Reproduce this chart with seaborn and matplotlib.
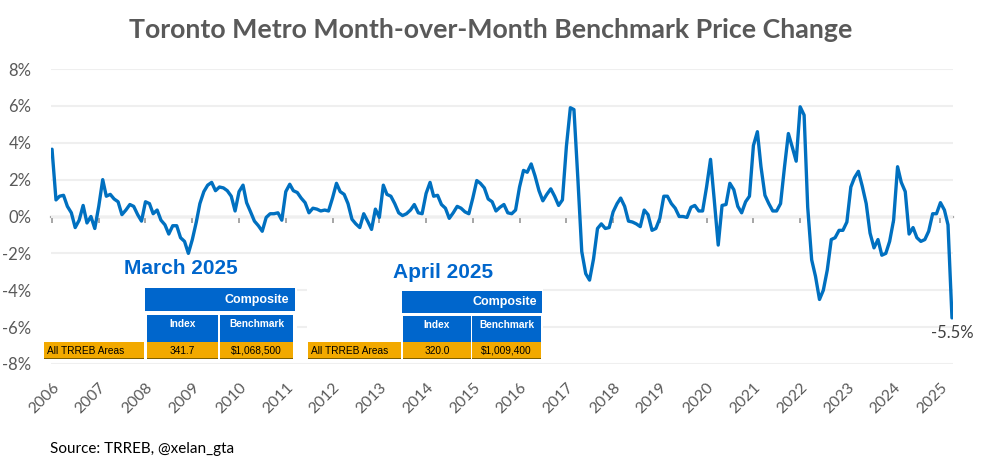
import matplotlib
matplotlib.use("Agg")
import matplotlib.pyplot as plt
import matplotlib.dates as mdates
from matplotlib.patches import Rectangle
import pandas as pd
import seaborn as sns

# Cambio mensual (%) del precio benchmark, ene 2006 - abr 2025
mom_change = [
    3.65, 0.9, 1.1, 1.15, 0.55, 0.2, -0.6, -0.2, 0.6, -0.35, 0.0, -0.65,        # 2006
    0.55, 2.0, 1.1, 1.2, 0.95, 0.8, 0.1, 0.35, 0.65, 0.55, 0.1, -0.25,          # 2007
    0.8, 0.7, 0.15, 0.35, -0.2, -0.45, -0.95, -0.5, -0.5, -1.15, -1.35, -2.0,   # 2008
    -1.25, -0.3, 0.7, 1.35, 1.7, 1.85, 1.4, 1.6, 1.55, 1.4, 1.1, 0.3,           # 2009
    1.35, 1.7, 0.75, 0.25, -0.25, -0.5, -0.8, -0.05, 0.15, 0.15, 0.2, -0.2,     # 2010
    1.35, 1.75, 1.4, 1.3, 1.0, 0.75, 0.2, 0.45, 0.4, 0.3, 0.35, 0.3,            # 2011
    1.0, 1.8, 1.35, 1.2, 0.7, -0.15, -0.4, -0.6, 0.15, -0.25, -0.7, 0.4,        # 2012
    -0.05, 1.7, 1.2, 1.1, 0.7, 0.2, 0.05, 0.15, 0.35, 0.65, 0.2, 0.15,          # 2013
    1.25, 1.85, 1.1, 1.15, 0.65, 0.45, -0.1, 0.2, 0.55, 0.45, 0.25, 0.15,       # 2014
    1.0, 1.95, 1.8, 1.55, 0.95, 0.8, 0.3, 0.5, 0.65, 0.2, 0.15, 0.35,           # 2015
    1.6, 2.5, 2.4, 2.85, 2.2, 1.4, 0.85, 1.2, 1.5, 1.1, 0.6, 0.9,               # 2016
    3.8, 5.9, 5.8, 2.0, -1.9, -3.1, -3.45, -2.3, -0.65, -0.4, -0.65, -0.6,      # 2017
    0.25, 0.7, 1.0, 0.55, -0.25, -0.3, -0.4, -0.55, 0.35, 0.1, -0.75, -0.65,    # 2018
    -0.1, 1.1, 1.1, 0.7, 0.45, 0.0, 0.0, -0.05, 0.5, 0.6, 0.3, 0.3,             # 2019
    1.6, 3.1, 0.9, -1.55, 0.6, 0.65, 1.8, 1.45, 0.55, 0.2, 0.8, 1.1,            # 2020
    3.85, 4.6, 2.7, 1.15, 0.7, 0.3, 0.3, 0.7, 2.7, 4.5, 3.75, 3.0,              # 2021
    5.95, 5.5, 0.5, -2.35, -3.25, -4.5, -4.0, -2.9, -1.25, -1.15, -0.75, -0.75, # 2022
    -0.3, 1.6, 2.1, 2.45, 1.65, 0.7, -0.9, -1.7, -1.25, -2.1, -2.0, -1.35,      # 2023
    -0.2, 2.7, 1.85, 1.35, -0.95, -0.6, -1.15, -1.35, -1.25, -0.8, 0.15, 0.15,  # 2024
    0.75, 0.35, -0.45, -5.5,                                                    # 2025
]
start_month = "2006-01-01"
years = list(range(2006, 2026))
y_ticks = [-8, -6, -4, -2, 0, 2, 4, 6, 8]

# Tablas insertadas (marzo / abril 2025)
table_titles = ["March 2025", "April 2025"]
table_group = "Composite"
table_cols = ["Index", "Benchmark"]
table_row = "All TRREB Areas"
table_index = ["341.7", "320.0"]
table_benchmark = ["$1,068,500", "$1,009,400"]

title = "Toronto Metro Month-over-Month Benchmark Price Change"
source = "Source: TRREB, @xelan_gta"

W, H = 981, 462
BLUE = "#0070C0"
CELL_BLUE = "#0066CC"
ORANGE = "#F2A900"
GRAY = "#595959"

sns.set_theme(style="white")
plt.rcParams["font.family"] = ["Lato", "DejaVu Sans"]

df = pd.DataFrame({
    "fecha": pd.date_range(start_month, periods=len(mom_change), freq="MS"),
    "cambio": mom_change,
})

fig = plt.figure(figsize=(W / 100, H / 100), dpi=100)
ax = fig.add_axes([51 / W, 1 - 364 / H, (953 - 51) / W, (364 - 69) / H])

sns.lineplot(data=df, x="fecha", y="cambio", ax=ax, color=BLUE, linewidth=2.4, zorder=3)

ax.set_ylim(-8, 8)
ax.set_xlim(df["fecha"].iloc[0] - pd.Timedelta(days=8), df["fecha"].iloc[-1] + pd.Timedelta(days=8))
ax.set_yticks(y_ticks)
ax.set_yticklabels([f"{v}%" for v in y_ticks], fontsize=12, color=GRAY)
year_dates = [pd.Timestamp(f"{y}-01-01") for y in years]
ax.set_xticks(year_dates)
ax.set_xticklabels([str(y) for y in years], rotation=45, ha="right",
                   rotation_mode="anchor", fontsize=11.3, color=GRAY)
ax.tick_params(axis="x", length=0, pad=12)
ax.tick_params(axis="y", length=0, pad=14)
ax.set_xlabel("")
ax.set_ylabel("")
ax.grid(axis="y", color="#EFEFEF", linewidth=1.5)
ax.grid(axis="x", visible=False)
for s in ax.spines.values():
    s.set_visible(False)

# eje en cero con marcas anuales
zero_ax = ax.secondary_xaxis(0, transform=ax.transData)
zero_ax.spines["bottom"].set_color("#A6A6A6")
zero_ax.spines["bottom"].set_linewidth(1.6)
zero_ax.set_xticks(mdates.date2num(year_dates))
zero_ax.tick_params(axis="x", length=4, width=1.4, color="#A6A6A6", labelbottom=False, direction="out")

ax.annotate(f"{mom_change[-1]}%", xy=(df["fecha"].iloc[-1], mom_change[-1]),
            xytext=(0, -11), textcoords="offset points", ha="center", va="center",
            fontsize=12, color="#404040")

fig.text(0.5, 1 - 30 / H, title, ha="center", va="center", fontsize=19.3,
         fontweight="bold", color=GRAY)
fig.text(50 / W, 1 - 449 / H, source, ha="left", va="center", fontsize=11, color="black")


def box(x0, y0, x1, y1, color, **kw):
    fig.add_artist(Rectangle((x0 / W, 1 - y1 / H), (x1 - x0) / W, (y1 - y0) / H,
                             transform=fig.transFigure, facecolor=color,
                             edgecolor="none", zorder=5, **kw))


def label(x, y, s, **kw):
    fig.text(x / W, 1 - y / H, s, family=["Liberation Sans"], zorder=6, **kw)


layouts = [
    # fondo, titulo, caja "Composite", columnas, celda de fila
    dict(bg=(42, 256, 297, 362), tx=181, ty=269, comp=(145, 288, 295, 311), cx=257,
         cols=[(147, 218), (220, 293)], lab=(44, 144), head=(315, 341.5), row=(342, 359)),
    dict(bg=(307, 256, 543, 362), tx=443, ty=272, comp=(402, 291, 542, 313), cx=505,
         cols=[(403, 471), (472, 541)], lab=(308, 401), head=(316, 342), row=(342, 359)),
]

for i, lay in enumerate(layouts):
    box(*lay["bg"], "white")
    label(lay["tx"], lay["ty"], table_titles[i], ha="center", va="center",
          fontsize=15, fontweight="bold", color=CELL_BLUE)
    c = lay["comp"]
    box(*c, CELL_BLUE)
    label(lay["cx"], (c[1] + c[3]) / 2, table_group, ha="center", va="center",
          fontsize=9, fontweight="bold", color="white")
    h0, h1 = lay["head"]
    r0, r1 = lay["row"]
    vals = [table_index[i], table_benchmark[i]]
    for (a, b), name, v in zip(lay["cols"], table_cols, vals):
        box(a, h0, b, h1, CELL_BLUE)
        label((a + b) / 2, h0 + 9, name, ha="center", va="center",
              fontsize=7.3, fontweight="bold", color="white")
        box(a, r0, b, r1, ORANGE)
        box(a, r1 - 1, b, r1, "#7F6000")
        label((a + b) / 2, (r0 + r1) / 2, v, ha="center", va="center",
              fontsize=7.3, color="black")
    la, lb = lay["lab"]
    box(la, r0, lb, r1, ORANGE)
    box(la, r1 - 1, lb, r1, "#7F6000")
    label(la + 3, (r0 + r1) / 2, table_row, ha="left", va="center",
          fontsize=7.3, color="black")

fig.savefig("out.png", dpi=100, facecolor="white")
